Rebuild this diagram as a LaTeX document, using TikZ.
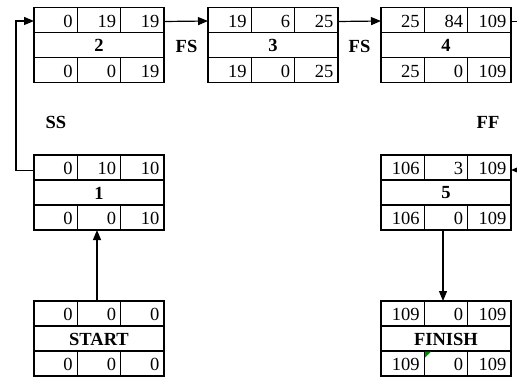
\documentclass[tikz,border=0pt]{standalone}
\usepackage{fontspec}
\setmainfont{Liberation Serif}
\usetikzlibrary{arrows.meta}
\tikzset{
  actbox/.style={draw, line width=1.1pt, minimum width=130pt, minimum height=75pt,
                 inner sep=0pt, outer sep=0pt},
  cellline/.style={line width=1.1pt},
  num/.style={inner sep=0pt, anchor=east, font=\fontsize{18.5}{20}\selectfont},
  title/.style={inner sep=0pt, font=\fontsize{18.5}{20}\selectfont\bfseries},
  rel/.style={inner sep=0pt, font=\fontsize{18.5}{20}\selectfont\bfseries},
  link/.style={line width=1.2pt, -{Triangle[length=10pt,width=8pt]}},
}
% #1 name, #2 top-left corner, #3 title, #4-#6 ES/D/EF, #7-#9 LS/TF/LF
\newcommand\activity[9]{%
  \node[actbox, anchor=north west] (#1) at (#2) {};
  \draw[cellline] ([yshift=-25pt]#1.north west) -- ([yshift=-25pt]#1.north east)
                  ([yshift=-50pt]#1.north west) -- ([yshift=-50pt]#1.north east);
  \foreach \dx in {43.3,86.7} {
    \draw[cellline] ([xshift=\dx pt]#1.north west) -- ++(0,25)
                    ([xshift=\dx pt,yshift=-50pt]#1.north west) -- ++(0,25);
  }
  \node[num] (#1-es) at ([xshift=38.8pt,yshift=-13.5pt]#1.north west) {#4};
  \node[num] (#1-d)  at ([xshift=82.2pt,yshift=-13.5pt]#1.north west) {#5};
  \node[num] (#1-ef) at ([xshift=125.5pt,yshift=-13.5pt]#1.north west) {#6};
  \node[title] (#1-name) at ([yshift=-38pt]#1.north) {#3};
  \node[num] (#1-ls) at ([xshift=38.8pt,yshift=-63.5pt]#1.north west) {#7};
  \node[num] (#1-tf) at ([xshift=82.2pt,yshift=-63.5pt]#1.north west) {#8};
  \node[num] (#1-lf) at ([xshift=125.5pt,yshift=-63.5pt]#1.north west) {#9};
  \coordinate (#1-w) at ([yshift=-13.5pt]#1.north west);
  \coordinate (#1-e) at ([yshift=-14pt]#1.north east);
}
\begin{document}
\begin{tikzpicture}[x=1pt,y=-1pt]
  \useasboundingbox (0,0) rectangle (517,377);
  \clip (0,0) rectangle (517,377);

  \activity{b2}{34,7.5}{2}{0}{19}{19}{0}{0}{19}
  \activity{b3}{208,7.5}{3}{19}{6}{25}{19}{0}{25}
  \activity{b4}{381,7.5}{4}{25}{84}{109}{25}{0}{109}
  \activity{b1}{34,155}{1}{0}{10}{10}{0}{0}{10}
  \activity{b5}{381,155}{5}{106}{3}{109}{106}{0}{109}
  \activity{start}{34,301}{START}{0}{0}{0}{0}{0}{0}
  \activity{finish}{381,301}{FINISH}{109}{0}{109}{109}{0}{109}

  % small green marker in the FINISH float cell
  \fill[green!55!black] ([xshift=44pt,yshift=-50.6pt]finish.north west)
        -- ++(6,0) -- ++(-6,6) -- cycle;

  % dependency labels
  \node[rel] (fs1) at (186.5,46.5) {FS};
  \node[rel] (fs2) at (359.5,46.5) {FS};
  \node[rel] (ss)  at (56,122) {SS};
  \node[rel] (ff)  at (488,122) {FF};

  % dependency links
  \draw[link] (b2-e) -- (b3-w);
  \draw[link] (b3-e) -- (b4-w);
  \draw[link] ([yshift=-2pt]b1-w) -- ++(-18,0) |- (b2-w);
  \draw[link] (b4-e) -- ++(16,0) |- ([yshift=-1pt]b5-e);
  \draw[link] ([xshift=-2pt]start.north) -- ([xshift=-2pt]b1.south);
  \draw[link] ([xshift=-3pt]b5.south) -- ([xshift=-3pt]finish.north);
\end{tikzpicture}
\end{document}
